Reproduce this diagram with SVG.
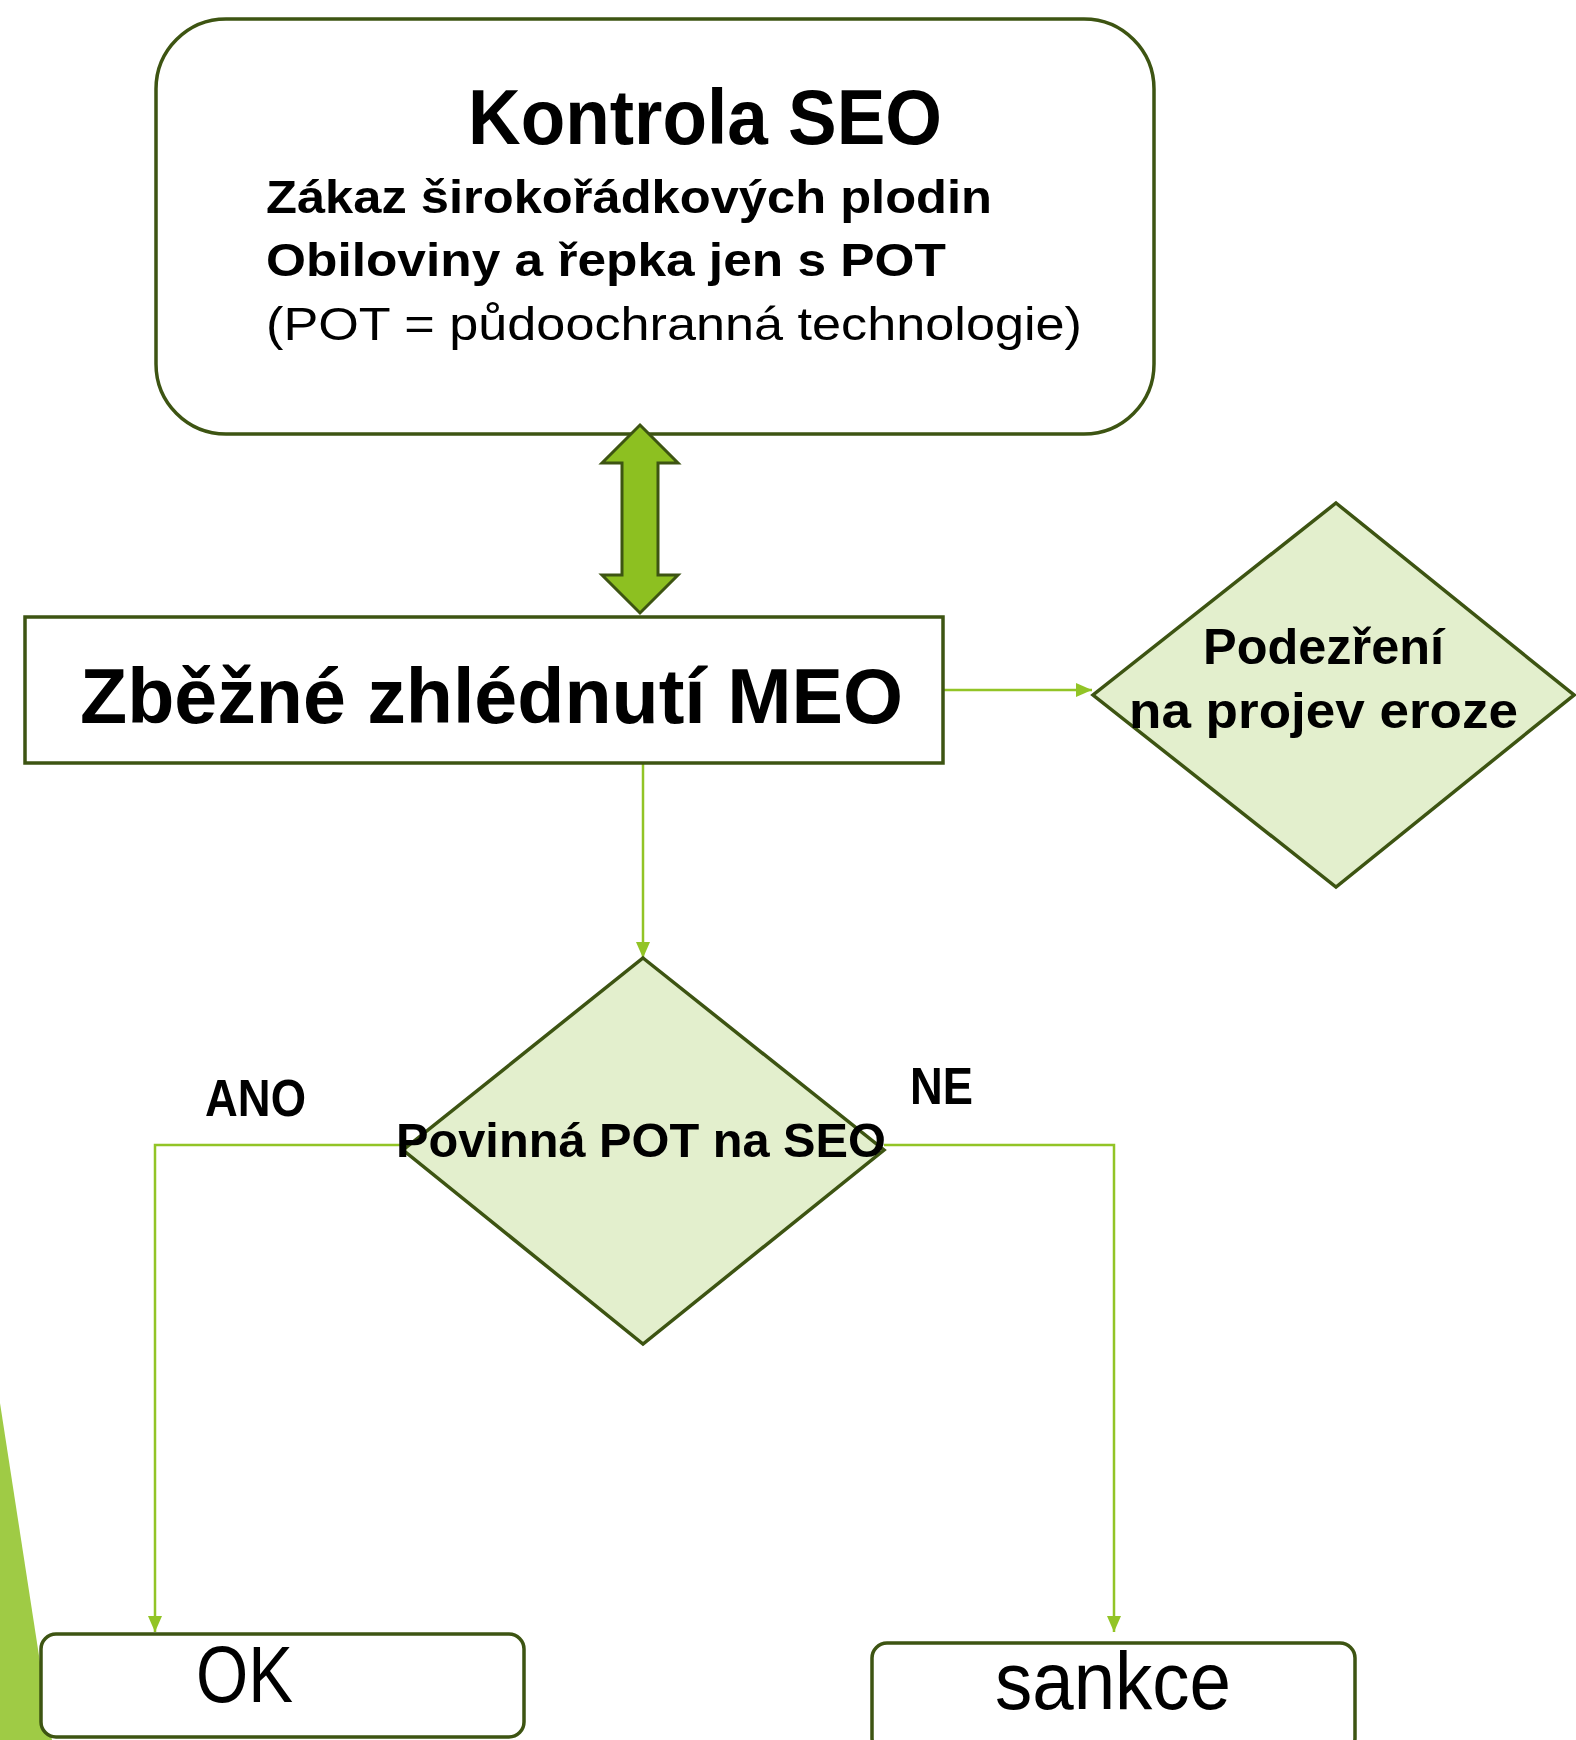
<svg xmlns="http://www.w3.org/2000/svg" width="1576" height="1740" viewBox="0 0 1576 1740">
<style>
.box{fill:#ffffff;stroke:#3d5412;stroke-width:3.5}
.dia{fill:#e3efcd;stroke:#3d5412;stroke-width:3.5}
.con{fill:none;stroke:#92c426;stroke-width:2.5}
.t{font-family:"Liberation Sans",Arial,sans-serif;fill:#000}
.b{font-weight:bold}
</style>
<defs>
<marker id="ah" markerUnits="userSpaceOnUse" markerWidth="16" markerHeight="14" refX="16" refY="7" orient="auto">
<path d="M0,0 L16,7 L0,14 Z" fill="#92c426"/>
</marker>
</defs>
<rect width="1576" height="1740" fill="#ffffff"/>
<polygon points="0,1403 52,1740 0,1740" fill="#9fcb45"/>

<g id="connectors">
<line class="con" x1="943" y1="690" x2="1092" y2="690" marker-end="url(#ah)"/>
<line class="con" x1="643" y1="764" x2="643" y2="958" marker-end="url(#ah)"/>
<polyline class="con" points="403,1145 155,1145 155,1632" marker-end="url(#ah)"/>
<polyline class="con" points="884,1145 1114,1145 1114,1632" marker-end="url(#ah)"/>
</g>

<g id="kontrola">
<rect class="box" x="156" y="19" width="998" height="415" rx="70" ry="70"/>
<text class="t b" x="468" y="144" font-size="78" textLength="474" lengthAdjust="spacingAndGlyphs">Kontrola SEO</text>
<text class="t b" x="266" y="213" font-size="47" textLength="726" lengthAdjust="spacingAndGlyphs">Zákaz širokořádkových plodin</text>
<text class="t b" x="266" y="276" font-size="47" textLength="680" lengthAdjust="spacingAndGlyphs">Obiloviny a řepka jen s POT</text>
<text class="t" x="266" y="340" font-size="46" textLength="816" lengthAdjust="spacingAndGlyphs">(POT = půdoochranná technologie)</text>
</g>

<g id="double-arrow">
<polygon points="640,425 678,463 658,463 658,575 678,575 640,613 602,575 622,575 622,463 602,463" fill="#8dc021" stroke="#3d5412" stroke-width="3"/>
</g>

<g id="zbezne">
<rect class="box" x="25" y="617" width="918" height="146"/>
<text class="t b" x="80" y="723" font-size="78" textLength="823" lengthAdjust="spacingAndGlyphs">Zběžné zhlédnutí MEO</text>
</g>

<g id="podezreni">
<polygon class="dia" points="1336,503 1574,695 1336,887 1093,695"/>
<text class="t b" x="1203" y="664" font-size="50" textLength="241" lengthAdjust="spacingAndGlyphs">Podezření</text>
<text class="t b" x="1129" y="728" font-size="50" textLength="389" lengthAdjust="spacingAndGlyphs">na projev eroze</text>
</g>

<g id="povinna">
<polygon class="dia" points="643,958 884,1150 643,1344 403,1150"/>
<text class="t b" x="396" y="1157" font-size="49" textLength="490" lengthAdjust="spacingAndGlyphs">Povinná POT na SEO</text>
</g>

<g id="labels">
<text class="t b" x="205" y="1116" font-size="51" textLength="101" lengthAdjust="spacingAndGlyphs">ANO</text>
<text class="t b" x="910" y="1104" font-size="51" textLength="63" lengthAdjust="spacingAndGlyphs">NE</text>
</g>

<g id="ok">
<rect class="box" x="41" y="1634" width="483" height="103" rx="15" ry="15"/>
<text class="t" x="196" y="1702" font-size="80" textLength="97" lengthAdjust="spacingAndGlyphs">OK</text>
</g>

<g id="sankce">
<rect class="box" x="872" y="1643" width="483" height="110" rx="15" ry="15"/>
<text class="t" x="995" y="1709" font-size="81" textLength="236" lengthAdjust="spacingAndGlyphs">sankce</text>
</g>
</svg>
